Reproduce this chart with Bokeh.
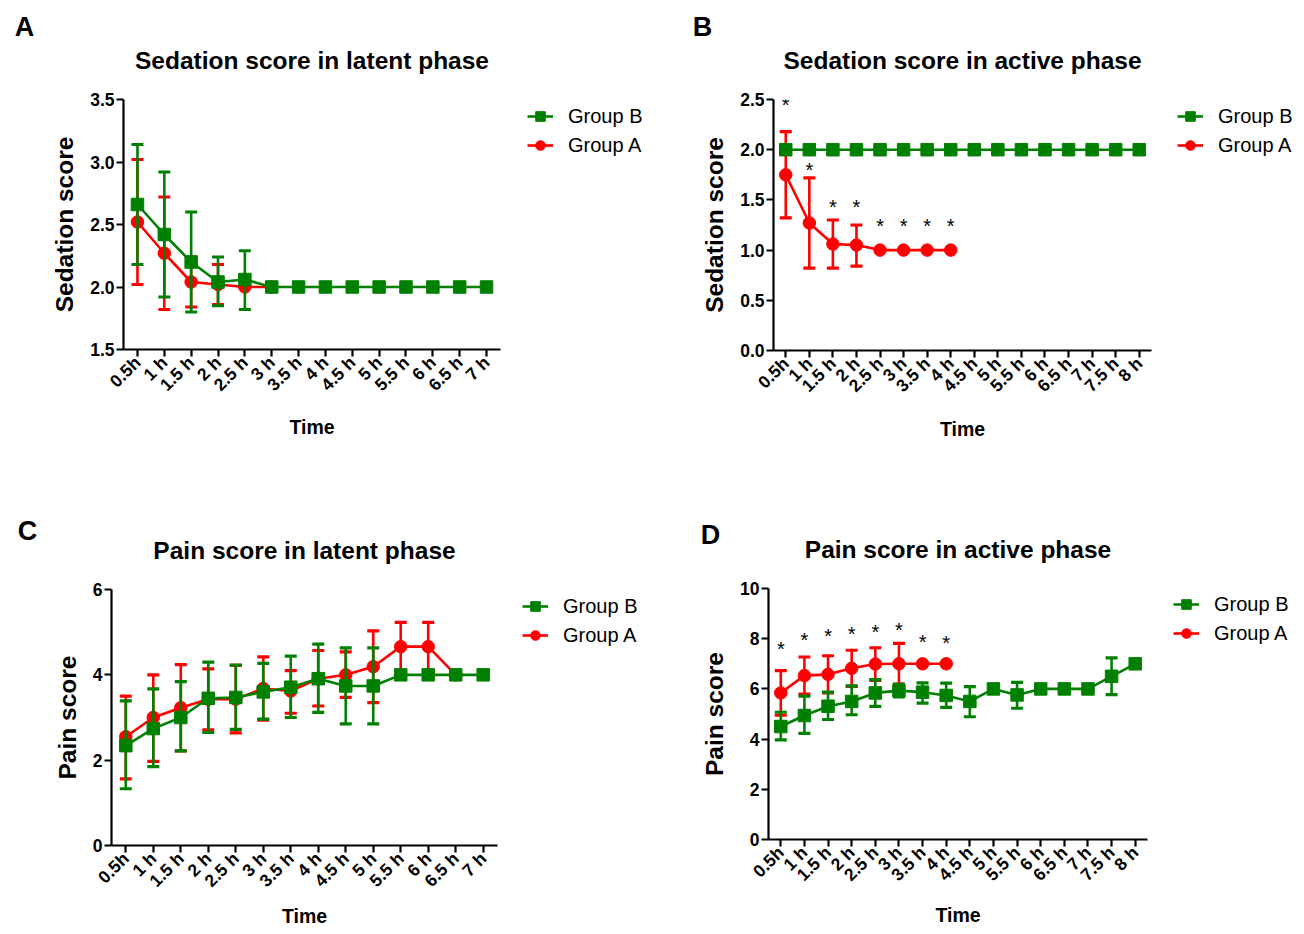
import math
from bokeh.plotting import figure
from bokeh.models import (Range1d, FixedTicker, Legend, LegendItem, Label,
                          NumeralTickFormatter)
from bokeh.layouts import row, column
from bokeh.embed import file_html
from bokeh.resources import INLINE
from bokeh.core.properties import value

FONT = "Liberation Sans"
GREEN = "#008000"
RED = "#ff0000"

# ---------------- data ----------------
labels_7h = ["0.5h", "1 h", "1.5 h", "2 h", "2.5 h", "3 h", "3.5 h", "4 h",
             "4.5 h", "5 h", "5.5 h", "6 h", "6.5 h", "7 h"]
labels_8h = ["0.5h", "1 h", "1.5 h", "2 h", "2.5 h", "3 h", "3.5 h", "4 h",
             "4.5 h", "5 h", "5.5 h", "6 h", "6.5 h", "7 h", "7.5 h", "8 h"]

# A: sedation score, latent phase
a_groupB_mean = [2.66, 2.42, 2.20, 2.04, 2.06, 2.00, 2.00, 2.00, 2.00, 2.00, 2.00, 2.00, 2.00, 2.00]
a_groupB_high = [3.14, 2.92, 2.60, 2.24, 2.29, None, None, None, None, None, None, None, None, None]
a_groupB_low = [2.18, 1.92, 1.80, 1.85, 1.82, None, None, None, None, None, None, None, None, None]
a_groupA_mean = [2.52, 2.27, 2.04, 2.02, 2.00, 2.00]
a_groupA_high = [3.02, 2.72, 2.24, 2.18, None, None]
a_groupA_low = [2.02, 1.82, 1.84, 1.86, None, None]

# B: sedation score, active phase
b_groupB_mean = [2.0, 2.0, 2.0, 2.0, 2.0, 2.0, 2.0, 2.0, 2.0, 2.0, 2.0, 2.0, 2.0, 2.0, 2.0, 2.0]
b_groupB_high = [None] * 16
b_groupB_low = [None] * 16
b_groupA_mean = [1.75, 1.27, 1.06, 1.05, 1.00, 1.00, 1.00, 1.00]
b_groupA_high = [2.18, 1.72, 1.30, 1.25, None, None, None, None]
b_groupA_low = [1.32, 0.82, 0.82, 0.84, None, None, None, None]
b_star_y = [2.46, 1.81, 1.44, 1.44, 1.25, 1.25, 1.25, 1.25]

# C: pain score, latent phase
c_groupB_mean = [2.34, 2.74, 3.00, 3.45, 3.47, 3.60, 3.71, 3.91, 3.74, 3.74, 4.00, 4.00, 4.00, 4.00]
c_groupB_high = [3.39, 3.67, 3.84, 4.30, 4.23, 4.27, 4.44, 4.72, 4.63, 4.63, None, None, None, None]
c_groupB_low = [1.33, 1.85, 2.22, 2.65, 2.72, 2.96, 3.00, 3.12, 2.85, 2.85, None, None, None, None]
c_groupA_mean = [2.55, 3.00, 3.23, 3.43, 3.43, 3.68, 3.62, 3.91, 4.00, 4.19, 4.66, 4.66, 4.00]
c_groupA_high = [3.50, 4.00, 4.24, 4.14, 4.22, 4.42, 4.10, 4.57, 4.54, 5.03, 5.23, 5.23, None]
c_groupA_low = [1.56, 1.97, 2.22, 2.71, 2.64, 2.94, 3.10, 3.27, 3.47, 3.35, 4.09, 4.09, None]

# D: pain score, active phase
d_groupB_mean = [4.50, 4.94, 5.31, 5.50, 5.84, 5.93, 5.87, 5.74, 5.50, 6.00, 5.76, 6.00, 6.00, 6.00, 6.50, 7.00]
d_groupB_high = [5.07, 5.71, 5.87, 6.12, 6.37, 6.18, 6.24, 6.23, 6.09, None, 6.26, None, None, None, 7.24, None]
d_groupB_low = [3.97, 4.23, 4.78, 4.97, 5.30, 5.68, 5.43, 5.26, 4.89, None, 5.23, None, None, None, 5.77, None]
d_groupA_mean = [5.84, 6.53, 6.58, 6.82, 6.99, 7.00, 7.00, 7.00]
d_groupA_high = [6.73, 7.27, 7.32, 7.54, 7.64, 7.81, None, None]
d_groupA_low = [4.95, 5.79, 5.84, 6.10, 6.34, 6.19, None, None]
d_star_y = [7.64, 7.99, 8.16, 8.22, 8.30, 8.38, 7.89, 7.85]


def blank_fig(W, H, left=0, top=0):
    f = figure(width=W, height=H, output_backend="svg", toolbar_location=None,
               title=None, x_axis_type=None, y_axis_type=None,
               x_range=Range1d(0, W), y_range=Range1d(H, 0),
               min_border=0, min_border_left=left, min_border_right=0,
               min_border_top=top, min_border_bottom=0)
    f.outline_line_color = None
    f.xgrid.visible = False
    f.ygrid.visible = False
    f.background_fill_color = "white"
    f.border_fill_color = "white"
    return f


def header(W, H, title, title_xy, letter, letter_xy):
    f = blank_fig(W, H)
    f.add_layout(Label(x=title_xy[0], y=title_xy[1], text=title, text_font=FONT,
                       text_font_size="24.5px", text_font_style="bold",
                       text_align="center", text_baseline="middle", text_color="black"))
    f.add_layout(Label(x=letter_xy[0], y=letter_xy[1], text=letter, text_font=FONT,
                       text_font_size="27px", text_font_style="bold",
                       text_align="center", text_baseline="middle", text_color="black"))
    return f


def legend_fig(W, H, left, top, margin):
    f = blank_fig(W, H, left, top)
    lnB = f.line([0, 1], [0, 0], line_color=GREEN, line_width=2.6)
    ptB = f.scatter([0], [0], marker="square", size=12, fill_color=GREEN, line_color=GREEN)
    lnA = f.line([0, 1], [0, 0], line_color=RED, line_width=2.6)
    ptA = f.scatter([0], [0], marker="circle", size=12, fill_color=RED, line_color=RED)
    # keep the stand-in glyphs outside the visible range
    f.x_range = Range1d(100, 100 + W)
    legend = Legend(items=[LegendItem(label="Group B", renderers=[lnB, ptB]),
                           LegendItem(label="Group A", renderers=[lnA, ptA])],
                    location="top_left", orientation="vertical")
    legend.label_text_font = FONT
    legend.label_text_font_size = "20px"
    legend.label_text_color = "black"
    legend.glyph_width = 26
    legend.glyph_height = 24
    legend.label_height = 24
    legend.label_standoff = 15
    legend.spacing = 5
    legend.padding = 0
    legend.margin = margin
    legend.border_line_color = None
    legend.background_fill_alpha = 0
    f.add_layout(legend, "center")
    return f


def draw_series(p, mean, high, low, color, marker):
    xs = list(range(len(mean)))
    ex = [i for i in xs if high[i] is not None]
    if ex:
        p.segment(x0=ex, y0=[low[i] for i in ex], x1=ex, y1=[high[i] for i in ex],
                  line_color=color, line_width=2.6)
        p.scatter(x=ex, y=[high[i] for i in ex], marker="dash", size=12,
                  line_color=color, line_width=3.2)
        p.scatter(x=ex, y=[low[i] for i in ex], marker="dash", size=12,
                  line_color=color, line_width=3.2)
    p.line(xs, mean, line_color=color, line_width=2.6)
    p.scatter(xs, mean, marker=marker, size=12.5, fill_color=color, line_color=color)


def make_panel(ylabel, labels, yr, yticks, yfmt, groupA, groupB, stars, geom, xlab_standoff):
    W, H, left, right, top, bottom = geom
    n = len(labels)
    p = figure(width=W, height=H, output_backend="svg", toolbar_location=None, title=None,
               x_range=Range1d(-0.52, n - 1 + 0.52), y_range=Range1d(*yr),
               min_border_left=left, min_border_right=right,
               min_border_top=top, min_border_bottom=bottom)
    p.outline_line_color = None
    p.xgrid.visible = False
    p.ygrid.visible = False
    p.background_fill_color = "white"
    p.border_fill_color = "white"

    for ax in (p.xaxis[0], p.yaxis[0]):
        ax.axis_line_width = 2.2
        ax.axis_line_color = "black"
        ax.major_tick_line_width = 2.2
        ax.major_tick_line_color = "black"
        ax.major_tick_out = 7
        ax.major_tick_in = 0
        ax.minor_tick_line_color = None
        ax.major_label_text_font = FONT
        ax.major_label_text_font_style = "bold"
        ax.major_label_text_font_size = "17.5px"
        ax.major_label_text_color = "black"
        ax.axis_label_text_font = FONT
        ax.axis_label_text_font_style = "bold"
        ax.axis_label_text_color = "black"

    xa = p.xaxis[0]
    xa.ticker = FixedTicker(ticks=list(range(n)))
    xa.major_label_overrides = {i: lab for i, lab in enumerate(labels)}
    xa.major_label_orientation = math.pi / 4
    xa.major_label_standoff = 3
    xa.axis_label = "Time"
    xa.axis_label_text_font_size = "19.5px"
    xa.axis_label_standoff = xlab_standoff

    ya = p.yaxis[0]
    ya.ticker = FixedTicker(ticks=yticks)
    ya.formatter = NumeralTickFormatter(format=yfmt)
    ya.major_label_standoff = 2
    ya.axis_label = ylabel
    ya.axis_label_text_font_size = "24.5px"
    ya.axis_label_standoff = 9

    draw_series(p, *groupA, RED, "circle")
    draw_series(p, *groupB, GREEN, "square")

    if stars is not None:
        p.text(x=list(range(len(stars))), y=stars, text=["*"] * len(stars),
               text_align="center", text_baseline="middle", text_font_size="20px",
               text_font=value(FONT), text_color="black", y_offset=1)
    return p


# ---- row 1 (page y 0..478) ----
pA = make_panel("Sedation score", labels_7h, (1.5, 3.5), [1.5, 2.0, 2.5, 3.0, 3.5], "0.0",
                (a_groupA_mean, a_groupA_high, a_groupA_low),
                (a_groupB_mean, a_groupB_high, a_groupB_low), None,
                (510, 404, 123, 10, 25, 129), 11)
pB = make_panel("Sedation score", labels_8h, (0.0, 2.5), [0.0, 0.5, 1.0, 1.5, 2.0, 2.5], "0.0",
                (b_groupA_mean, b_groupA_high, b_groupA_low),
                (b_groupB_mean, b_groupB_high, b_groupB_low), b_star_y,
                (503, 404, 115, 10, 25, 128), 12)
hA = header(658, 74, "Sedation score in latent phase", (311.5, 60), "A", (24, 26))
hB = header(644, 74, "Sedation score in active phase", (304, 60), "B", (44, 26))
lA = legend_fig(148, 404, 12, 25, 5)
lB = legend_fig(141, 404, 11, 25, 5)

# ---- row 2 (page y 478..933) ----
pC = make_panel("Pain score", labels_7h, (0, 6), [0, 2, 4, 6], "0",
                (c_groupA_mean, c_groupA_high, c_groupA_low),
                (c_groupB_mean, c_groupB_high, c_groupB_low), None,
                (507, 369, 111, 10, 25, 88), 4)
pD = make_panel("Pain score", labels_8h, (0, 10), [0, 2, 4, 6, 8, 10], "0",
                (d_groupA_mean, d_groupA_high, d_groupA_low),
                (d_groupB_mean, d_groupB_high, d_groupB_low), d_star_y,
                (499, 369, 110, 10, 24, 94), 9)
hC = header(658, 86, "Pain score in latent phase", (304, 72), "C", (27, 52))
hD = header(644, 86, "Pain score in active phase", (299.5, 71), "D", (52, 56))
lC = legend_fig(151, 369, 10, 25, 5)
lD = legend_fig(145, 369, 12, 24, 4)

layout = column(
    row(column(hA, row(pA, lA)), column(hB, row(pB, lB))),
    row(column(hC, row(pC, lC)), column(hD, row(pD, lD))),
)
open("out.html", "w").write(file_html(layout, INLINE))
